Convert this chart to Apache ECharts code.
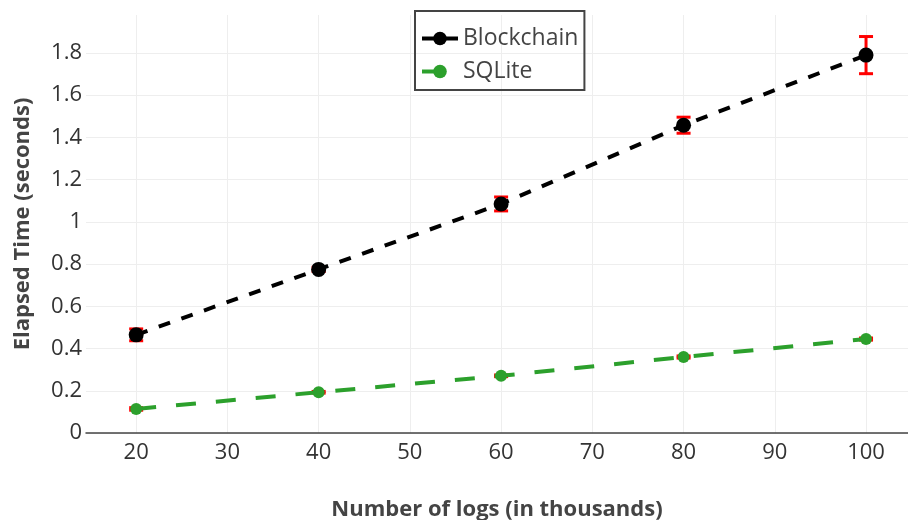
<!DOCTYPE html>
<html><head><meta charset="utf-8">
<script src="https://cdn.jsdelivr.net/npm/echarts@6/dist/echarts.min.js"></script>
<style>html,body{margin:0;padding:0;background:#fff}#c{width:908px;height:520px}</style>
</head><body><div id="c"></div>
<script>
const logs = [20, 40, 60, 80, 100];
const blockchain = [0.465, 0.775, 1.085, 1.458, 1.79];
const blockchainErr = [0.028, 0.01, 0.033, 0.038, 0.088];
const sqlite = [0.114, 0.193, 0.271, 0.36, 0.445];
const sqliteErr = [0.006, 0.004, 0.004, 0.005, 0.005];
const xTicks = [20, 30, 40, 50, 60, 70, 80, 90, 100];
const yTicks = [0, 0.2, 0.4, 0.6, 0.8, 1, 1.2, 1.4, 1.6, 1.8];

const FONT = '"Open Sans", "Noto Sans", sans-serif';
function pairs(xs, ys) { return xs.map((x, i) => [x, ys[i]]); }
function errData(xs, ys, es) { return xs.map((x, i) => [x, ys[i] - es[i], ys[i] + es[i]]); }
function errRender(params, api) {
  const lo = api.coord([api.value(0), api.value(1)]);
  const hi = api.coord([api.value(0), api.value(2)]);
  const w = 7;
  const style = { stroke: '#ff0000', lineWidth: 3, fill: null };
  return { type: 'group', children: [
    { type: 'line', shape: { x1: lo[0], y1: lo[1], x2: hi[0], y2: hi[1] }, style },
    { type: 'line', shape: { x1: lo[0] - w, y1: lo[1], x2: lo[0] + w, y2: lo[1] }, style },
    { type: 'line', shape: { x1: hi[0] - w, y1: hi[1], x2: hi[0] + w, y2: hi[1] }, style }
  ]};
}

const chart = echarts.init(document.getElementById('c'), null, { renderer: 'canvas' });
chart.setOption({
  animation: false,
  backgroundColor: '#fff',
  textStyle: { fontFamily: FONT },
  grid: { left: 86, right: 0, top: 15, bottom: 87, containLabel: false, outerBoundsMode: 'none' },
  legend: {
    left: 415, top: 11, orient: 'vertical',
    padding: [16, 6, 7, 5],
    borderColor: '#444', borderWidth: 2,
    itemWidth: 36, itemHeight: 17, itemGap: 10,
    textStyle: { fontFamily: FONT, fontSize: 23, color: '#444' },
    data: [
      { name: 'Blockchain', lineStyle: { width: 4, type: [12, 12], color: '#000' } },
      { name: 'SQLite', lineStyle: { width: 4, type: [20, 20], color: '#2ca02c' } }
    ]
  },
  xAxis: {
    type: 'value', min: 14.5, max: 104.6,
    name: 'Number of logs (in thousands)', nameLocation: 'middle', nameGap: 66,
    nameTextStyle: { fontFamily: FONT, fontSize: 22, fontWeight: 'bold', color: '#444' },
    axisLine: { show: true, lineStyle: { color: '#444', width: 1.5 } },
    axisTick: { show: false, customValues: xTicks },
    axisLabel: { customValues: xTicks, fontSize: 22, color: '#333', margin: 9, fontFamily: FONT },
    splitLine: { show: true, lineStyle: { color: '#eeeeee', width: 1 } }
  },
  yAxis: {
    type: 'value', min: 0, max: 1.98,
    name: 'Elapsed Time (seconds)', nameLocation: 'middle', nameGap: 52,
    nameTextStyle: { fontFamily: FONT, fontSize: 22, fontWeight: 'bold', color: '#444' },
    axisLine: { show: false },
    axisTick: { show: false, customValues: yTicks },
    axisLabel: { customValues: yTicks, fontSize: 22, color: '#333', margin: 4, fontFamily: FONT },
    splitLine: { show: true, lineStyle: { color: '#eeeeee', width: 1 } }
  },
  series: [
    { type: 'custom', name: 'bcErr', renderItem: errRender, data: errData(logs, blockchain, blockchainErr), z: 1, silent: true },
    { type: 'custom', name: 'sqErr', renderItem: errRender, data: errData(logs, sqlite, sqliteErr), z: 1, silent: true },
    {
      type: 'line', name: 'Blockchain', data: pairs(logs, blockchain), z: 3,
      symbol: 'circle', symbolSize: 15,
      itemStyle: { color: '#000' },
      lineStyle: { color: '#000', width: 4, type: [12, 12] }
    },
    {
      type: 'line', name: 'SQLite', data: pairs(logs, sqlite), z: 3,
      symbol: 'circle', symbolSize: 12,
      itemStyle: { color: '#2ca02c' },
      lineStyle: { color: '#2ca02c', width: 4, type: [20, 20] }
    }
  ]
});
</script></body></html>
